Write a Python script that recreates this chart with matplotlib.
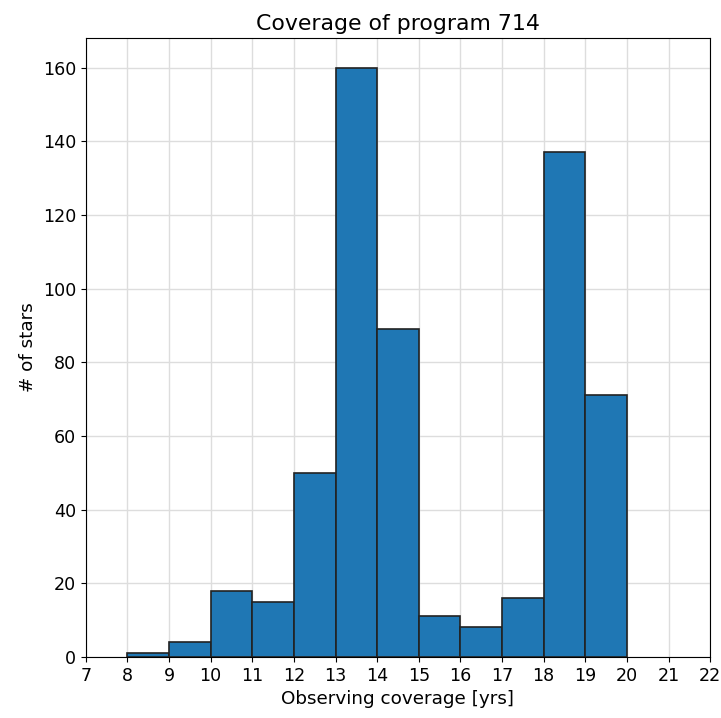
import matplotlib
matplotlib.use("Agg")
import matplotlib.pyplot as plt
import numpy as np

bin_edges = [8, 9, 10, 11, 12, 13, 14, 15, 16, 17, 18, 19, 20]
counts = [1, 4, 18, 15, 50, 160, 89, 11, 8, 16, 137, 71]
xticks = list(range(7, 23))

fig = plt.figure(figsize=(7.21, 7.18), dpi=100)
ax = fig.add_axes([0.119, 0.085, 0.866, 0.862])
ax.hist(bin_edges[:-1], bins=bin_edges, weights=counts, color="#1f77b4",
        edgecolor="#222222", linewidth=1.2)
ax.set_axisbelow(True)
ax.grid(True, color="#dddddd", linewidth=1)
ax.set_xlim(7, 22)
ax.set_ylim(0, 168)
ax.set_xticks(xticks)
ax.tick_params(labelsize=12.6)
ax.set_xlabel("Observing coverage [yrs]", fontsize=13.2)
ax.set_ylabel("# of stars", fontsize=13.2)
ax.set_title("Coverage of program 714", fontsize=15.8)
fig.savefig("out.png", dpi=100)
